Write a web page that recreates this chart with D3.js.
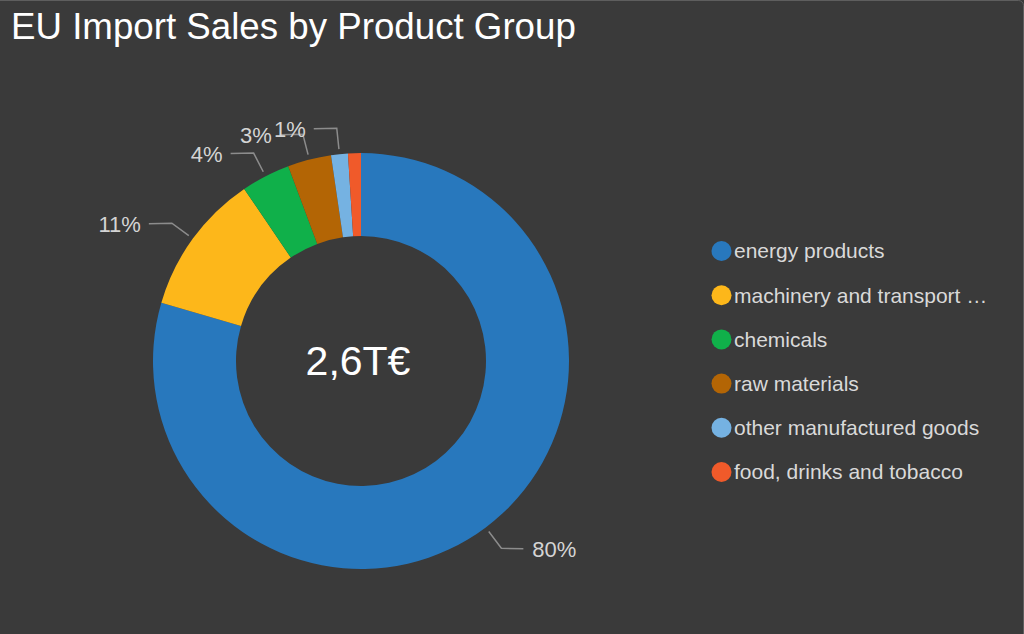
<!DOCTYPE html>
<html>
<head>
<meta charset="utf-8">
<script src="https://cdn.jsdelivr.net/npm/d3@7"></script>
<style>
  html, body { margin: 0; padding: 0; background: #3a3a3a; overflow: hidden; }
  svg { display: block; font-family: "Liberation Sans", Arial, sans-serif; }
</style>
</head>
<body>
<svg id="chart" width="1024" height="634"></svg>
<script>
// ---- data ----
const categories = ["energy products", "machinery and transport equipment", "chemicals", "raw materials", "other manufactured goods", "food, drinks and tobacco"];
const values = [2070, 286, 99, 88, 34, 26];   // billion €
const colors = ["#2878bd", "#fdb71a", "#10b04a", "#b36505", "#75b2e2", "#f05a2a"];
const centerLabel = "2,6T€";
const title = "EU Import Sales by Product Group";

// ---- layout ----
const W = 1024, H = 634;
const cx = 361, cy = 361, rOuter = 208, rInner = 125;
const svg = d3.select("#chart");

svg.append("rect").attr("x", 0).attr("y", 0).attr("width", W).attr("height", H).attr("fill", "#3a3a3a");
svg.append("rect").attr("x", -6).attr("y", 0.5).attr("width", 1029.5).attr("height", 700)
  .attr("rx", 5).attr("fill", "none").attr("stroke", "#5e5e5e").attr("stroke-width", 1);

svg.append("text").attr("x", 11).attr("y", 39).attr("fill", "#ffffff")
  .attr("font-size", 36.7).text(title);

const data = categories.map((c, i) => ({ name: c, value: values[i], color: colors[i] }));
const total = d3.sum(values);
const pie = d3.pie().value(d => d.value).sort(null);
const arcs = pie(data);
const arc = d3.arc().innerRadius(rInner).outerRadius(rOuter);

const g = svg.append("g").attr("transform", `translate(${cx},${cy})`);
g.selectAll("path.slice").data(arcs).join("path")
  .attr("class", "slice").attr("d", arc).attr("fill", d => d.data.color);

g.append("text").attr("x", -3).attr("y", 0).attr("dy", "0.35em").attr("text-anchor", "middle")
  .attr("fill", "#ffffff").attr("font-size", 41).text(centerLabel);

// ---- labels with collision check ----
const fmt = v => Math.round(v / total * 100) + "%";
const lblFont = 22;
const measure = svg.append("text").attr("font-size", lblFont).attr("visibility", "hidden");
const placed = [];
arcs.forEach(d => {
  const a = (d.startAngle + d.endAngle) / 2;
  const sx = Math.sin(a), sy = -Math.cos(a);
  const p0 = [sx * 213, sy * 213];
  const p1 = [sx * 234, sy * 234];
  const right = sx >= 0;
  const p2 = [p1[0] + (right ? 22 : -23), p1[1] + 0.5];
  const txt = fmt(d.data.value);
  measure.text(txt);
  const tw = measure.node().getComputedTextLength();
  const tx = p2[0] + (right ? 9 : -8);
  const box = { x0: right ? tx : tx - tw, x1: right ? tx + tw : tx, y0: p2[1] - 11, y1: p2[1] + 11 };
  const hit = placed.some(b => !(box.x1 < b.x0 || box.x0 > b.x1 || box.y1 < b.y0 || box.y0 > b.y1));
  if (hit) return;
  placed.push(box);
  g.append("polyline").attr("points", [p0, p1, p2].map(p => p.join(",")).join(" "))
    .attr("fill", "none").attr("stroke", "#8c8c8c").attr("stroke-width", 1.5);
  g.append("text").attr("x", tx).attr("y", p2[1] + 0.5).attr("dy", "0.35em")
    .attr("text-anchor", right ? "start" : "end").attr("fill", "#d4d4d4")
    .attr("font-size", lblFont).text(txt);
});
measure.remove();

// ---- legend ----
const legY = d3.scalePoint().domain(categories).range([251, 472]);
const legFont = 21, maxW = 254;
const leg = svg.append("g");
categories.forEach((c, i) => {
  const y = legY(c);
  leg.append("circle").attr("cx", 721.5).attr("cy", y).attr("r", 10).attr("fill", colors[i]);
  const t = leg.append("text").attr("x", 734).attr("y", y).attr("dy", "0.35em")
    .attr("fill", "#d9d9d9").attr("font-size", legFont).text(c);
  if (t.node().getComputedTextLength() > maxW) {
    let s = c;
    while (s.length > 1) {
      s = s.slice(0, -1);
      t.text(s.replace(/\s+$/, "") + " …");
      if (t.node().getComputedTextLength() <= maxW) break;
    }
  }
});
</script>
</body>
</html>
